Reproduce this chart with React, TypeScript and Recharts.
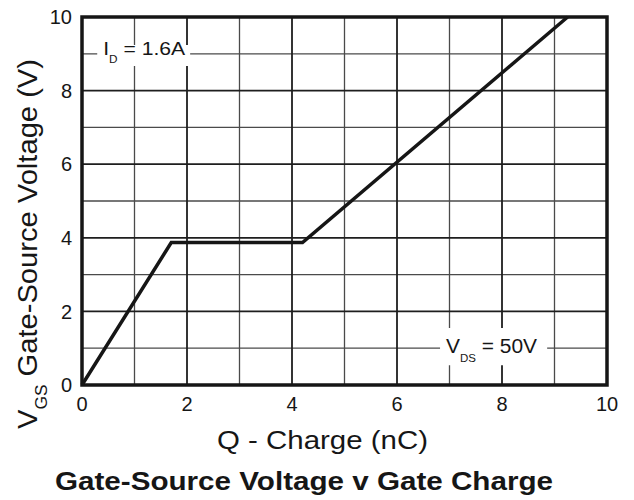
import React from 'react';
import {
  ComposedChart,
  Line,
  XAxis,
  YAxis,
  CartesianGrid,
  ReferenceArea,
  Label,
} from 'recharts';

// gate charge curve
const chargeNc = [0, 1.7, 4.2, 9.25];
const gateVoltage = [0, 3.87, 3.87, 10];

const xTicks = [0, 2, 4, 6, 8, 10];
const yTicks = [0, 2, 4, 6, 8, 10];
const minorGrid = [1, 3, 5, 7, 9];
const majorGrid = [2, 4, 6, 8];

const FONT = '"Liberation Sans", Arial, Helvetica, sans-serif';
const INK = '#161616';

const data = chargeNc.map((q, i) => ({ q, v: gateVoltage[i] }));

function BoxLabel({ viewBox, main, sub, rest, size, subSize, baseline, subDy, width }: any) {
  const { x, y } = viewBox;
  return (
    <text
      x={x + 6}
      y={y + baseline}
      fill={INK}
      fontFamily={FONT}
      fontSize={size}
      textLength={width}
      lengthAdjust="spacingAndGlyphs"
    >
      <tspan>{main}</tspan>
      <tspan fontSize={subSize} dy={subDy}>{sub}</tspan>
      <tspan dy={-subDy}>{rest}</tspan>
    </text>
  );
}

function YTitle() {
  return (
    <text
      transform="translate(37,244) rotate(-90)"
      textAnchor="middle"
      fill={INK}
      fontFamily={FONT}
      fontSize={27}
      textLength={370}
      lengthAdjust="spacingAndGlyphs"
    >
      <tspan>V</tspan>
      <tspan fontSize={16} dy={10}>GS</tspan>
      <tspan dy={-10}>{'  Gate-Source Voltage (V)'}</tspan>
    </text>
  );
}

function XTitle({ viewBox }: any) {
  return (
    <g fontFamily={FONT} fill={INK}>
      <text
        x={322.5}
        y={viewBox.y + 64}
        textAnchor="middle"
        fontSize={25}
        textLength={211}
        lengthAdjust="spacingAndGlyphs"
      >
        Q - Charge (nC)
      </text>
      <text
        x={304}
        y={viewBox.y + 105}
        textAnchor="middle"
        fontSize={26.5}
        fontWeight="bold"
        textLength={498}
        lengthAdjust="spacingAndGlyphs"
      >
        Gate-Source Voltage v Gate Charge
      </text>
    </g>
  );
}

export default function App() {
  return (
    <div style={{ position: 'absolute', left: 0, top: 0, background: '#fff' }}>
      <ComposedChart
        width={634}
        height={500}
        data={data}
        margin={{ top: 17, right: 27, left: 0, bottom: 0 }}
      >
        <CartesianGrid
          stroke="#4a4a4a"
          strokeWidth={1.3}
          horizontalValues={minorGrid}
          verticalValues={minorGrid}
        />
        <CartesianGrid
          stroke="#1e1e1e"
          strokeWidth={1.8}
          horizontalValues={majorGrid}
          verticalValues={majorGrid}
        />
        <XAxis
          dataKey="q"
          type="number"
          domain={[0, 10]}
          ticks={xTicks}
          height={115}
          axisLine={false}
          tickLine={false}
          tickSize={0}
          tickMargin={12}
          tick={{ fill: INK, fontSize: 20, fontFamily: FONT }}
        >
          <Label content={<XTitle />} />
        </XAxis>
        <YAxis
          type="number"
          domain={[0, 10]}
          ticks={yTicks}
          width={82}
          axisLine={false}
          tickLine={false}
          tickSize={0}
          tickMargin={10}
          tick={{ fill: INK, fontSize: 20, fontFamily: FONT }}
        >
          <Label content={<YTitle />} />
        </YAxis>
        <ReferenceArea
          x1={0.29}
          x2={2.06}
          y1={8.67}
          y2={9.24}
          fill="#fff"
          fillOpacity={1}
          stroke="none"
          label={
            <BoxLabel
              main="I"
              sub="D"
              rest=" = 1.6A"
              size={18}
              subSize={10}
              baseline={10}
              subDy={8}
              width={82}
            />
          }
        />
        <ReferenceArea
          x1={6.82}
          x2={8.86}
          y1={0.54}
          y2={1.55}
          fill="#fff"
          fillOpacity={1}
          stroke="none"
          label={
            <BoxLabel
              main="V"
              sub="DS"
              rest=" = 50V"
              size={20}
              subSize={11}
              baseline={25}
              subDy={9}
              width={91}
            />
          }
        />
        <Line
          dataKey="v"
          type="linear"
          stroke={INK}
          strokeWidth={3.5}
          dot={false}
          isAnimationActive={false}
        />
        <ReferenceArea
          x1={0}
          x2={10}
          y1={0}
          y2={10}
          fill="none"
          stroke={INK}
          strokeWidth={3.5}
        />
      </ComposedChart>
    </div>
  );
}
